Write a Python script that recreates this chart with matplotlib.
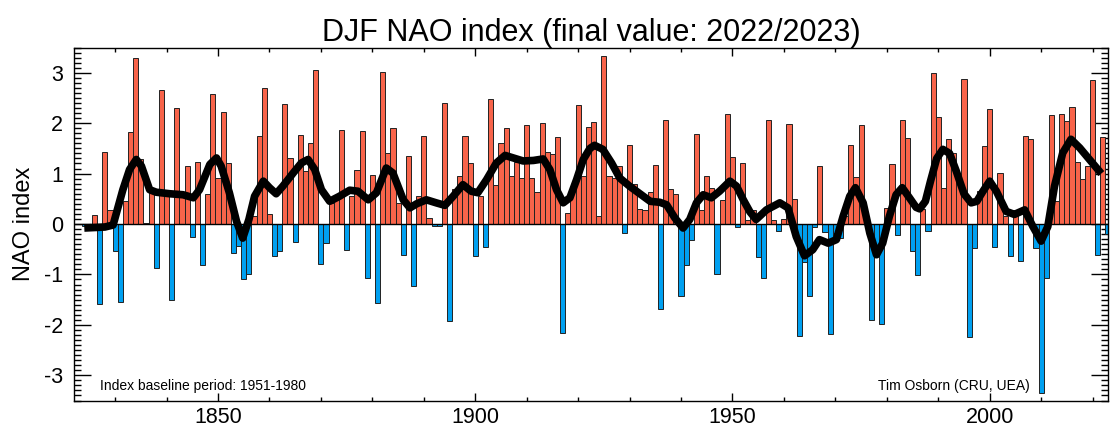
import numpy as np
import matplotlib.pyplot as plt
from matplotlib.ticker import MultipleLocator

plt.rcParams['font.family'] = ['Liberation Sans', 'DejaVu Sans']
plt.rcParams['axes.unicode_minus'] = False

# winter (DJF) NAO index, year = January of the winter
first_year = 1824
nao = [
    -0.03, 0.00, 0.17, -1.59, 1.43, 0.28, -0.53, -1.55, 0.45, 1.82,   # 1824-1833
    3.30, 1.28, 0.02, 0.65, -0.88, 2.66, 0.60, -1.50, 2.30, 0.60,     # 1834-1843
    1.15, -0.25, 1.23, -0.81, 0.60, 2.57, 0.91, 2.22, 1.20, -0.58,    # 1844-1853
    -0.43, -1.09, -1.00, 0.15, 1.74, 2.70, 0.19, -0.64, -0.54, 2.38,  # 1854-1863
    1.31, -0.36, 1.77, 1.05, 1.61, 3.05, -0.79, -0.38, 0.42, 0.55,    # 1864-1873
    1.87, -0.52, 0.55, 1.08, 1.85, -1.07, 0.98, -1.57, 3.01, 1.41,    # 1874-1883
    1.91, 0.42, -0.62, 1.34, -1.23, 0.56, 1.75, 0.12, -0.04, -0.04,   # 1884-1893
    2.39, -1.93, 0.70, 0.95, 1.74, 1.21, -0.63, 0.55, -0.46, 2.47,    # 1894-1903
    0.78, 1.60, 1.91, 0.95, 1.23, 0.91, 1.97, 0.91, 0.63, 2.00,       # 1904-1913
    1.42, 1.38, 1.73, -2.17, 0.21, 0.65, 2.36, 0.95, 1.93, 2.02,      # 1914-1923
    0.15, 3.34, 0.95, 0.91, 1.15, -0.18, 1.57, 0.79, 0.30, 0.27,      # 1924-1933
    0.63, 1.17, -1.68, 2.07, 0.70, 0.60, -1.42, -0.82, -0.31, 1.79,   # 1934-1943
    0.28, 0.95, 0.72, -1.00, 0.48, 2.19, 1.32, -0.06, 1.20, 0.07,     # 1944-1953
    0.27, -0.66, -1.08, 2.06, 0.07, -0.13, 0.10, 1.99, 0.50, -2.22,   # 1954-1963
    -0.76, -1.42, -0.05, 1.15, -0.15, -2.19, -0.18, -0.28, 0.15, 1.57,  # 1964-1973
    0.93, 1.96, 0.15, -1.90, -0.48, -1.99, 0.32, 1.19, -0.21, 2.07,   # 1974-1983
    1.70, -0.54, -1.01, 0.30, -0.13, 2.99, 2.12, 0.72, 1.69, 1.41,    # 1984-1993
    1.00, 2.88, -2.25, -0.48, 0.66, 1.54, 2.28, -0.46, 1.01, 0.15,    # 1994-2003
    -0.63, 0.28, -0.73, 1.74, 1.68, -0.48, -3.35, -1.08, 2.17, 0.45,  # 2004-2013
    2.19, 2.05, 2.32, 1.23, 0.89, 1.15, 2.85, -0.62, 1.72, -0.20,     # 2014-2023
]
years = np.arange(first_year, first_year + len(nao))

# smoothed curve
smooth_years = [1824.0, 1826.0, 1828.0, 1829.6, 1831.5, 1832.8, 1834.1, 1835.1,
                1836.7, 1838.0, 1840.6, 1843.2, 1845.2, 1846.4, 1848.4, 1849.7,
                1850.6, 1852.2, 1853.6, 1854.8, 1856.0, 1857.1, 1858.8, 1860.0,
                1861.3, 1862.6, 1864.6, 1866.2, 1867.5, 1868.8, 1870.1, 1871.7,
                1873.6, 1875.6, 1877.2, 1879.2, 1880.8, 1882.7, 1884.0, 1886.0,
                1887.3, 1888.6, 1890.5, 1892.4, 1894.1, 1895.7, 1897.6, 1899.2,
                1900.5, 1902.2, 1904.1, 1905.8, 1907.4, 1909.3, 1911.3, 1913.2,
                1914.5, 1915.8, 1917.1, 1918.4, 1919.7, 1921.0, 1922.3, 1923.2,
                1924.8, 1926.5, 1928.1, 1930.0, 1932.0, 1934.0, 1935.9, 1937.2,
                1938.8, 1940.4, 1941.7, 1943.0, 1944.3, 1945.9, 1947.5, 1949.5,
                1950.8, 1952.1, 1953.4, 1954.6, 1956.6, 1959.2, 1960.8, 1962.4,
                1964.0, 1965.6, 1966.9, 1968.6, 1970.2, 1971.5, 1972.8, 1973.9,
                1975.4, 1976.7, 1978.0, 1979.2, 1980.5, 1981.8, 1983.0, 1984.4,
                1985.7, 1986.4, 1987.5, 1988.5, 1989.7, 1990.9, 1992.2, 1993.5,
                1995.0, 1996.4, 1997.5, 1998.7, 2000.0, 2001.3, 2003.2, 2004.8,
                2006.8, 2008.4, 2010.0, 2011.3, 2012.6, 2014.2, 2015.8, 2017.5,
                2019.4, 2021.7]
smooth_vals = [-0.08, -0.07, -0.06, -0.02, 0.68, 1.08, 1.28, 1.15,
               0.68, 0.63, 0.60, 0.58, 0.52, 0.68, 1.18, 1.31,
               1.15, 0.62, 0.05, -0.28, 0.09, 0.55, 0.85, 0.72,
               0.60, 0.75, 1.01, 1.21, 1.28, 1.08, 0.68, 0.45,
               0.55, 0.67, 0.65, 0.48, 0.62, 1.11, 1.01, 0.48,
               0.32, 0.40, 0.48, 0.42, 0.37, 0.55, 0.78, 0.65,
               0.62, 0.88, 1.21, 1.36, 1.31, 1.25, 1.26, 1.29,
               1.08, 0.68, 0.42, 0.52, 0.88, 1.28, 1.50, 1.56,
               1.48, 1.21, 0.91, 0.75, 0.60, 0.45, 0.43, 0.38,
               0.12, -0.08, 0.09, 0.42, 0.58, 0.52, 0.65, 0.85,
               0.75, 0.48, 0.24, 0.09, 0.28, 0.42, 0.32, -0.25,
               -0.63, -0.51, -0.31, -0.38, -0.31, 0.15, 0.55, 0.72,
               0.42, -0.18, -0.61, -0.38, 0.15, 0.58, 0.72, 0.52,
               0.33, 0.30, 0.45, 0.85, 1.30, 1.48, 1.40, 1.05,
               0.60, 0.42, 0.45, 0.65, 0.85, 0.65, 0.25, 0.19,
               0.28, -0.05, -0.34, -0.05, 0.75, 1.41, 1.68, 1.51,
               1.28, 1.00]

red = '#f8644a'
blue = '#00a0f0'

fig = plt.figure(figsize=(11.10, 4.32), dpi=100)
ax = fig.add_axes([74 / 1110, 31.5 / 432, 1034 / 1110, 353 / 432])

vals = np.array(nao)
colors = [red if v >= 0 else blue for v in vals]
ax.bar(years, vals, width=1.0, color=colors, edgecolor='#222222', linewidth=0.7, zorder=2)
ax.axhline(0, color='black', linewidth=1.0, zorder=3)
ax.plot(smooth_years, smooth_vals, color='black', linewidth=5.5,
        solid_capstyle='butt', solid_joinstyle='round', zorder=4)

ax.set_xlim(1822, 2023)
ax.set_ylim(-3.5, 3.5)
ax.xaxis.set_major_locator(MultipleLocator(50))
ax.xaxis.set_minor_locator(MultipleLocator(10))
ax.yaxis.set_major_locator(MultipleLocator(1))
ax.yaxis.set_minor_locator(MultipleLocator(0.1))

ax.tick_params(axis='both', which='both', direction='in', top=True, right=True,
               width=1.0, color='black')
ax.tick_params(axis='x', which='major', length=6, labelsize=15.5, pad=5)
ax.tick_params(axis='x', which='minor', length=3)
ax.tick_params(axis='y', which='major', length=12, labelsize=15.5, pad=8)
ax.tick_params(axis='y', which='minor', length=5)
for sp in ax.spines.values():
    sp.set_linewidth(1.0)

ax.set_ylabel('NAO index', fontsize=17, labelpad=6)
ax.set_title('DJF NAO index (final value: 2022/2023)', fontsize=22, pad=3)

ax.text(1827.0, -3.21, 'Index baseline period: 1951-1980', fontsize=10,
        ha='left', va='center', zorder=5)
ax.text(2007.7, -3.21, 'Tim Osborn (CRU, UEA)', fontsize=10,
        ha='right', va='center', zorder=5)

fig.savefig('out.png', dpi=100)
